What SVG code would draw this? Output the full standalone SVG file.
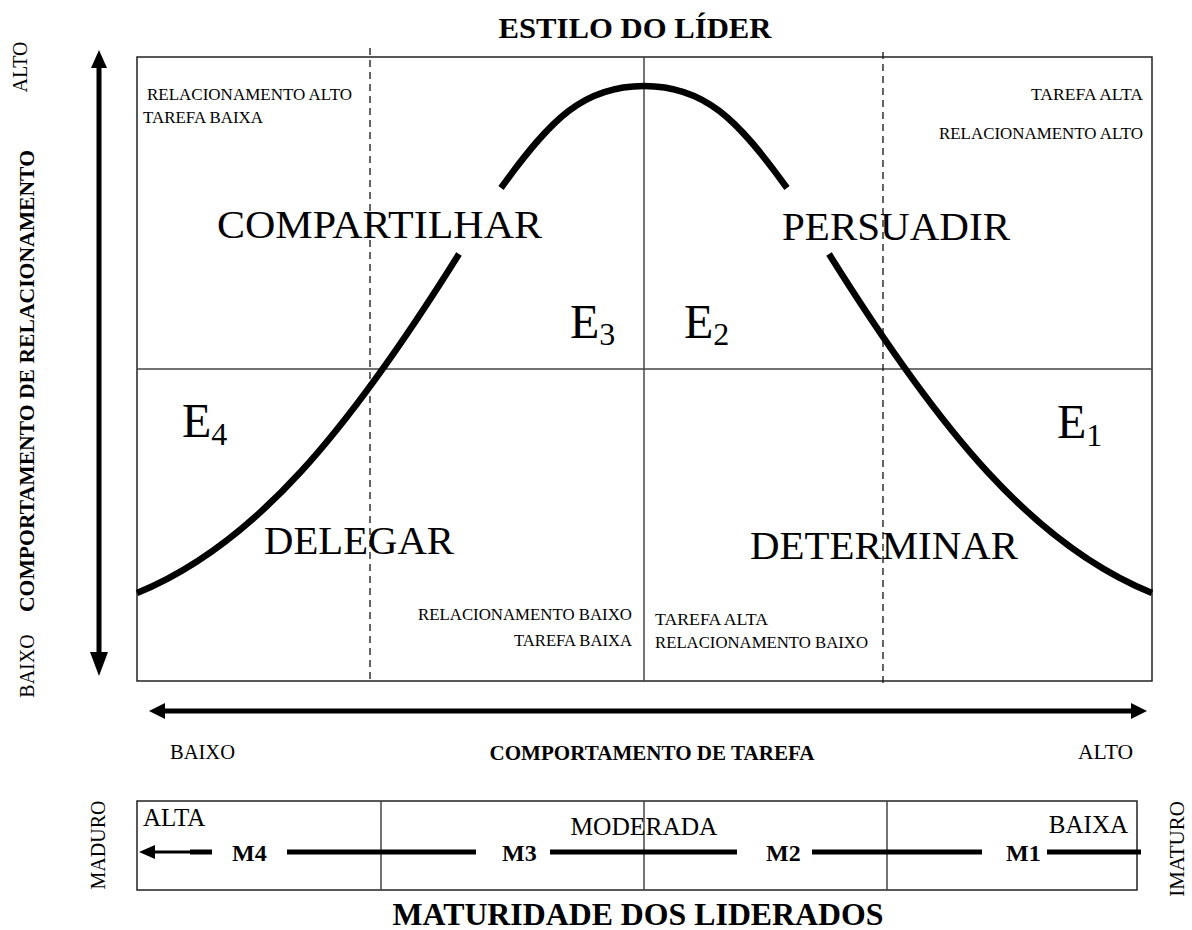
<svg xmlns="http://www.w3.org/2000/svg" width="1192" height="930" viewBox="0 0 1192 930">
<style>
text{font-family:"Liberation Serif","Times New Roman",serif;fill:#000}
.b{font-weight:bold}
.sm{font-size:16.5px}
.ax{font-size:20px}
.big{font-size:41px}
.e{font-size:48px}
.sub{font-size:32px}
.frame{fill:none;stroke:#222;stroke-width:1.5}
.mid{stroke:#444;stroke-width:1.5}
.dash{stroke:#111;stroke-width:1.3;stroke-dasharray:7 5}
.curve{fill:none;stroke:#000;stroke-width:6.5;stroke-linejoin:round;stroke-linecap:butt}
.shaft{stroke:#000;stroke-width:5}
.mline{stroke:#000;stroke-width:5}
</style>
<rect width="1192" height="930" fill="#fff"/>
<g id="title"><text class="b" x="635" y="38" font-size="30" text-anchor="middle" textLength="273" lengthAdjust="spacingAndGlyphs">ESTILO DO LÍDER</text></g>
<g id="grid">
<rect class="frame" x="137" y="57" width="1015" height="624"/>
<line class="mid" x1="137" y1="369" x2="1152" y2="369"/>
<line class="mid" x1="644" y1="57" x2="644" y2="681"/>
<line class="dash" x1="370" y1="48" x2="370" y2="681"/>
<line class="dash" x1="883" y1="52" x2="883" y2="686"/>
</g>
<g id="connectors">
<path class="curve" d="M137,593 C255,545 349,430 459,254"/>
<path class="curve" d="M501,188 C551,118.5 584,86 644,86 C704,86 737,118.5 787,188"/>
<path class="curve" d="M829,254 C939,430 1033,545 1152,593"/>
<line class="shaft" x1="99" y1="64" x2="99" y2="656"/>
<polygon points="99,50 91,68 107,68"/>
<polygon points="99,676 90,652 108,652"/>
<line class="shaft" x1="162" y1="711" x2="1134" y2="711"/>
<polygon points="149,711 165,703 165,719"/>
<polygon points="1147,711 1131,703 1131,719"/>
</g>
<g id="q-compartilhar">
<text class="sm" x="147" y="100" textLength="205" lengthAdjust="spacingAndGlyphs">RELACIONAMENTO ALTO</text>
<text class="sm" x="143" y="123" textLength="120" lengthAdjust="spacingAndGlyphs">TAREFA BAIXA</text>
<text class="big" x="217" y="238" textLength="325" lengthAdjust="spacingAndGlyphs">COMPARTILHAR</text>
<text class="e" x="570" y="338">E<tspan class="sub" dy="7">3</tspan></text>
</g>
<g id="q-persuadir">
<text class="sm" x="1143" y="100" text-anchor="end" textLength="112" lengthAdjust="spacingAndGlyphs">TAREFA ALTA</text>
<text class="sm" x="1143" y="139" text-anchor="end" textLength="204" lengthAdjust="spacingAndGlyphs">RELACIONAMENTO ALTO</text>
<text class="big" x="782" y="240" textLength="228" lengthAdjust="spacingAndGlyphs">PERSUADIR</text>
<text class="e" x="684" y="338">E<tspan class="sub" dy="7">2</tspan></text>
</g>
<g id="q-delegar">
<text class="e" x="182" y="437">E<tspan class="sub" dy="8">4</tspan></text>
<text class="big" x="264" y="554" textLength="190" lengthAdjust="spacingAndGlyphs">DELEGAR</text>
<text class="sm" x="632" y="620" text-anchor="end" textLength="214" lengthAdjust="spacingAndGlyphs">RELACIONAMENTO BAIXO</text>
<text class="sm" x="632" y="646" text-anchor="end" textLength="118" lengthAdjust="spacingAndGlyphs">TAREFA BAIXA</text>
</g>
<g id="q-determinar">
<text class="e" x="1057" y="438">E<tspan class="sub" dy="8">1</tspan></text>
<text class="big" x="750" y="559" textLength="268" lengthAdjust="spacingAndGlyphs">DETERMINAR</text>
<text class="sm" x="655" y="625" textLength="113" lengthAdjust="spacingAndGlyphs">TAREFA ALTA</text>
<text class="sm" x="655" y="648" textLength="213" lengthAdjust="spacingAndGlyphs">RELACIONAMENTO BAIXO</text>
</g>
<g id="y-axis-labels">
<text class="ax" transform="translate(27,67) rotate(-90)" text-anchor="middle">ALTO</text>
<text class="b" font-size="21" transform="translate(34,381) rotate(-90)" text-anchor="middle" textLength="462" lengthAdjust="spacingAndGlyphs">COMPORTAMENTO DE RELACIONAMENTO</text>
<text class="ax" transform="translate(34,666) rotate(-90)" text-anchor="middle">BAIXO</text>
</g>
<g id="x-axis-labels">
<text class="ax" x="170" y="759" textLength="65" lengthAdjust="spacingAndGlyphs">BAIXO</text>
<text class="b" x="652" y="760" font-size="20" text-anchor="middle" textLength="325" lengthAdjust="spacingAndGlyphs">COMPORTAMENTO DE TAREFA</text>
<text class="ax" x="1133" y="759" text-anchor="end" textLength="55" lengthAdjust="spacingAndGlyphs">ALTO</text>
</g>
<g id="maturity">
<rect class="frame" x="137" y="801" width="1000" height="89"/>
<line class="mid" x1="381" y1="801" x2="381" y2="890"/>
<line class="mid" x1="644" y1="801" x2="644" y2="890"/>
<line class="mid" x1="887" y1="801" x2="887" y2="890"/>
<text x="143" y="826" font-size="25">ALTA</text>
<text x="644" y="835" font-size="25" text-anchor="middle" textLength="147" lengthAdjust="spacingAndGlyphs">MODERADA</text>
<text x="1128" y="833" font-size="25" text-anchor="end">BAIXA</text>
<polygon points="139,852 155,845 155,859"/>
<line x1="153" y1="852" x2="192" y2="852" stroke="#000" stroke-width="3"/>
<line class="mline" x1="190" y1="852" x2="212" y2="852"/>
<text class="b" x="232" y="861" font-size="24">M4</text>
<line class="mline" x1="287" y1="852" x2="476" y2="852"/>
<text class="b" x="502" y="861" font-size="24">M3</text>
<line class="mline" x1="550" y1="852" x2="737" y2="852"/>
<text class="b" x="766" y="861" font-size="24">M2</text>
<line class="mline" x1="812" y1="852" x2="982" y2="852"/>
<text class="b" x="1006" y="861" font-size="24">M1</text>
<line class="mline" x1="1047" y1="852" x2="1141" y2="852"/>
<text class="ax" transform="translate(105,845) rotate(-90)" text-anchor="middle">MADURO</text>
<text font-size="21" transform="translate(1184,849) rotate(-90)" text-anchor="middle">IMATURO</text>
<text class="b" x="638" y="925" font-size="31" text-anchor="middle" textLength="491" lengthAdjust="spacingAndGlyphs">MATURIDADE DOS LIDERADOS</text>
</g>
</svg>
